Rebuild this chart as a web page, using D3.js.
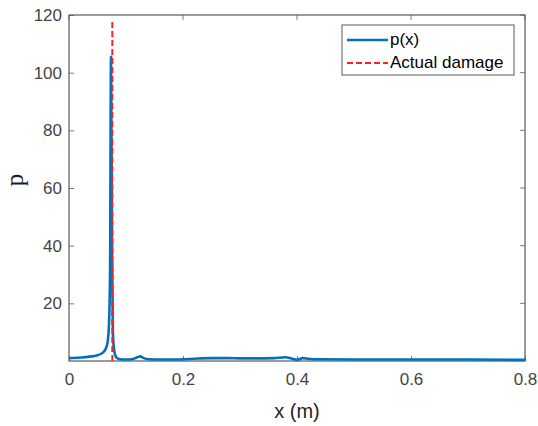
<!DOCTYPE html>
<html lang="en">
<head>
<meta charset="UTF-8">
<title>p(x)</title>
<style>
  body { margin: 0; background: #fff; }
  text { font-family: "Liberation Sans", Arial, sans-serif; }
</style>
</head>
<body>
<svg id="chart" width="538" height="426"></svg>
<script src="https://d3js.org/d3.v7.min.js"></script>
<script>
// p(x) curve
var xs = [0, 0.02, 0.04, 0.05, 0.06, 0.065, 0.068, 0.070, 0.072, 0.0737, 0.0755, 0.077, 0.079, 0.082, 0.086, 0.09,
          0.1, 0.11, 0.12, 0.125, 0.13, 0.14, 0.16, 0.18, 0.2, 0.22, 0.25, 0.28, 0.3, 0.33, 0.36, 0.38, 0.39,
          0.4, 0.41, 0.42, 0.44, 0.5, 0.6, 0.7, 0.8];
var ps = [1.0, 1.2, 1.6, 2.0, 3.0, 4.5, 7, 12, 30, 105.5, 40, 10, 4, 1.5, 0.8, 0.6,
          0.5, 0.6, 1.3, 1.6, 1.1, 0.6, 0.5, 0.5, 0.6, 0.8, 1.0, 1.0, 0.9, 0.9, 1.0, 1.3, 0.9,
          0.4, 1.0, 0.8, 0.6, 0.5, 0.5, 0.5, 0.4];
var damageX = 0.076;
var damageP = [0, 118];
var xTicks = [0, 0.2, 0.4, 0.6, 0.8];
var yTicks = [20, 40, 60, 80, 100, 120];
var legendLabels = ["p(x)", "Actual damage"];

var svg = d3.select("#chart"),
    box = { l: 69, r: 525, t: 15, b: 361 },
    axisColor = "#5a5a5a";

var x = d3.scaleLinear().domain([0, 0.8]).range([box.l, box.r]);
var y = d3.scaleLinear().domain([0, 120]).range([box.b, box.t]);

var data = xs.map(function (d, i) { return { x: d, p: ps[i] }; });

// axes (ticks inward, like matlab)
var xAxis = svg.append("g")
    .attr("transform", "translate(0," + box.b + ")")
    .call(d3.axisBottom(x).tickValues(xTicks).tickSizeInner(-5).tickSizeOuter(0).tickPadding(12)
        .tickFormat(function (d) { return d === 0 ? "0" : d3.format(".1f")(d); }));
var yAxis = svg.append("g")
    .attr("transform", "translate(" + box.l + ",0)")
    .call(d3.axisLeft(y).tickValues(yTicks).tickSizeInner(-5).tickSizeOuter(0).tickPadding(7));

[xAxis, yAxis].forEach(function (g) {
    g.select(".domain").remove();
    g.selectAll("line").attr("stroke", axisColor).attr("stroke-width", 0.8);
    g.selectAll("text").attr("fill", "#444").style("font-size", "17px");
});

// top/right ticks too
svg.append("g").selectAll("line").data(xTicks).join("line")
    .attr("x1", function (d) { return x(d); }).attr("x2", function (d) { return x(d); })
    .attr("y1", box.t).attr("y2", box.t + 5)
    .attr("stroke", axisColor).attr("stroke-width", 0.8);
svg.append("g").selectAll("line").data(yTicks).join("line")
    .attr("x1", box.r).attr("x2", box.r - 5)
    .attr("y1", function (d) { return y(d); }).attr("y2", function (d) { return y(d); })
    .attr("stroke", axisColor).attr("stroke-width", 0.8);

// box
svg.append("rect")
    .attr("x", box.l).attr("y", box.t)
    .attr("width", box.r - box.l).attr("height", box.b - box.t)
    .attr("fill", "none").attr("stroke", axisColor).attr("stroke-width", 1.2);

var line = d3.line()
    .x(function (d) { return x(d.x); })
    .y(function (d) { return y(d.p); })
    .curve(d3.curveMonotoneX);

svg.append("path")
    .datum(data)
    .attr("d", line)
    .attr("fill", "none")
    .attr("stroke", "#0072BD")
    .attr("stroke-width", 2.6);

svg.append("line")
    .attr("x1", x(damageX)).attr("x2", x(damageX))
    .attr("y1", y(damageP[0])).attr("y2", y(damageP[1]))
    .attr("stroke", "#FF2020")
    .attr("stroke-width", 2)
    .attr("stroke-dasharray", "6,3");

// labels
svg.append("text")
    .attr("x", (box.l + box.r) / 2).attr("y", 418)
    .attr("text-anchor", "middle")
    .attr("fill", "#262626")
    .style("font-size", "20px")
    .text("x (m)");

svg.append("text")
    .attr("transform", "translate(23,180) rotate(-90)")
    .attr("text-anchor", "middle")
    .attr("fill", "#1a1a3a")
    .style("font-family", "'Liberation Serif', 'DejaVu Serif', serif")
    .style("font-size", "25px")
    .text("p");

// legend
var lg = svg.append("g");
lg.append("rect")
    .attr("x", 342).attr("y", 25).attr("width", 172).attr("height", 50)
    .attr("fill", "#fff").attr("stroke", axisColor).attr("stroke-width", 1);
lg.append("line").attr("x1", 347).attr("x2", 388).attr("y1", 40).attr("y2", 40)
    .attr("stroke", "#0072BD").attr("stroke-width", 2.6);
lg.append("line").attr("x1", 347).attr("x2", 388).attr("y1", 63).attr("y2", 63)
    .attr("stroke", "#FF2020").attr("stroke-width", 2).attr("stroke-dasharray", "6,3");
lg.selectAll("text.lab").data(legendLabels).join("text")
    .attr("class", "lab")
    .attr("x", 390)
    .attr("y", function (d, i) { return 45 + i * 23; })
    .attr("fill", "#000")
    .style("font-size", "17px")
    .text(function (d) { return d; });
</script>
</body>
</html>
